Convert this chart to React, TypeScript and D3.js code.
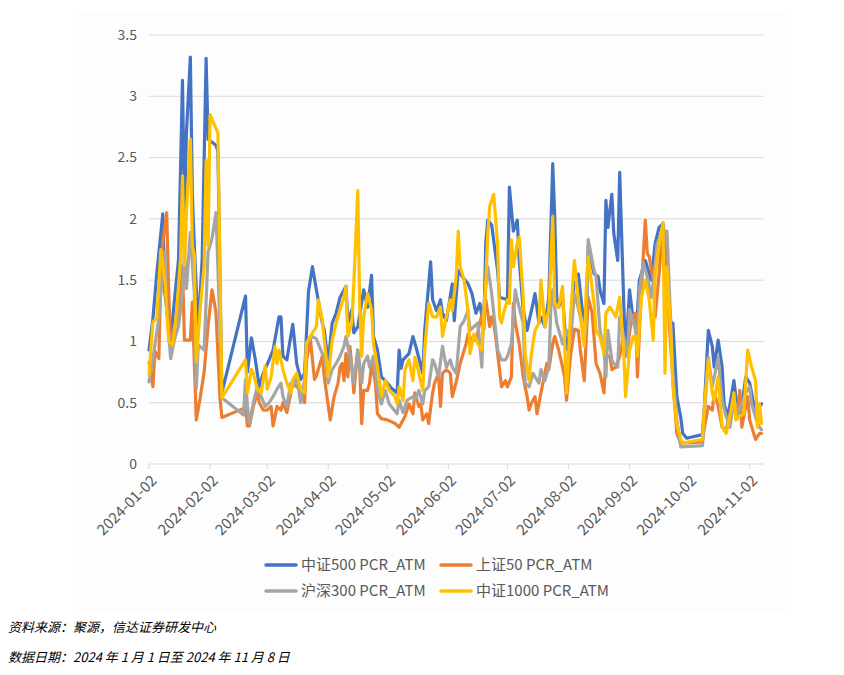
import React from "react";
import * as d3 from "d3";

const YEAR = 2024;
const tickDates = ["01-02","02-02","03-02","04-02","05-02","06-02","07-02","08-02","09-02","10-02","11-02"];
const yTicks = [0, 0.5, 1, 1.5, 2, 2.5, 3, 3.5];
const seriesNames = ["中证500 PCR_ATM", "上证50 PCR_ATM", "沪深300 PCR_ATM", "中证1000 PCR_ATM"];
const seriesColors = ["#4472C4", "#ED7D31", "#A5A5A5", "#FFC000"];
const sourceNote = "资料来源：聚源，信达证券研发中心";
const dateNote = "数据日期：2024 年 1 月 1 日至 2024 年 11 月 8 日";

const zz500: [string, number][] = [["01-02",0.93],["01-04",1.19],["01-06",1.56],["01-09",2.04],["01-10",1.4],["01-13",1.0],["01-15",1.35],["01-17",1.67],["01-19",3.13],["01-20",2.05],["01-21",2.7],["01-23",3.32],["01-24",2.2],["01-25",1.78],["01-27",1.1],["01-29",1.67],["01-31",3.31],["02-01",2.65],["02-05",2.6],["02-06",2.55],["02-08",0.58],["02-20",1.37],["02-21",0.75],["02-23",1.03],["02-25",0.85],["02-27",0.63],["02-29",0.74],["03-03",0.85],["03-05",0.93],["03-08",1.2],["03-09",1.2],["03-10",0.88],["03-12",0.85],["03-15",1.14],["03-17",0.82],["03-19",0.69],["03-21",0.74],["03-23",1.41],["03-25",1.61],["03-27",1.42],["03-30",1.15],["03-31",1.09],["04-02",0.82],["04-04",1.15],["04-06",1.23],["04-08",1.36],["04-10",1.42],["04-11",1.45],["04-12",1.15],["04-14",1.26],["04-15",1.07],["04-17",1.12],["04-20",1.42],["04-22",1.28],["04-24",1.54],["04-25",1.04],["04-27",0.93],["04-29",0.71],["05-01",0.68],["05-04",0.62],["05-07",0.58],["05-08",0.93],["05-09",0.78],["05-10",0.85],["05-13",0.9],["05-15",1.04],["05-17",0.93],["05-20",0.74],["05-21",1.09],["05-24",1.65],["05-25",1.34],["05-27",1.25],["05-29",1.34],["05-30",1.23],["06-01",1.17],["06-04",1.47],["06-05",1.17],["06-07",1.58],["06-09",1.53],["06-12",1.47],["06-14",1.39],["06-16",1.23],["06-18",1.31],["06-20",1.1],["06-21",1.8],["06-22",1.99],["06-24",1.95],["06-27",1.58],["06-28",1.36],["06-30",1.35],["07-02",1.34],["07-03",2.26],["07-05",1.9],["07-07",1.99],["07-08",1.66],["07-10",1.26],["07-12",1.09],["07-13",1.17],["07-15",1.31],["07-16",1.39],["07-18",1.15],["07-19",1.2],["07-21",1.12],["07-23",1.36],["07-25",2.45],["07-26",2.02],["07-27",1.36],["07-28",1.28],["07-30",1.36],["08-01",0.93],["08-03",1.1],["08-05",1.5],["08-07",1.55],["08-09",1.26],["08-11",1.12],["08-12",1.77],["08-15",1.55],["08-17",1.53],["08-18",1.42],["08-20",1.31],["08-21",2.15],["08-22",1.93],["08-24",2.2],["08-25",1.88],["08-27",1.66],["08-28",2.38],["08-30",1.34],["08-31",0.88],["09-02",1.42],["09-04",1.15],["09-06",1.23],["09-07",1.5],["09-10",1.66],["09-13",1.5],["09-15",1.8],["09-17",1.93],["09-19",1.96],["09-21",1.47],["09-23",1.15],["09-24",1.15],["09-26",0.55],["09-28",0.38],["09-29",0.25],["10-01",0.21],["10-09",0.24],["10-10",0.47],["10-12",1.09],["10-14",0.96],["10-15",0.79],["10-17",1.01],["10-19",0.79],["10-20",0.49],["10-22",0.39],["10-25",0.68],["10-27",0.41],["10-29",0.47],["10-31",0.71],["11-02",0.66],["11-05",0.41],["11-07",0.47],["11-08",0.49]];

const sz50: [string, number][] = [["01-02",0.83],["01-04",0.63],["01-05",0.92],["01-07",0.86],["01-08",1.51],["01-09",1.81],["01-11",2.05],["01-12",1.4],["01-13",0.97],["01-15",1.13],["01-17",1.21],["01-19",1.62],["01-20",1.01],["01-23",1.01],["01-24",1.32],["01-26",0.36],["01-28",0.54],["01-30",0.75],["02-01",1.13],["02-03",1.42],["02-05",1.24],["02-07",0.55],["02-08",0.38],["02-20",0.46],["02-21",0.31],["02-22",0.31],["02-24",0.47],["02-26",0.58],["02-27",0.5],["02-29",0.44],["03-02",0.44],["03-04",0.47],["03-05",0.31],["03-07",0.47],["03-09",0.44],["03-10",0.5],["03-12",0.42],["03-14",0.58],["03-15",0.66],["03-17",0.63],["03-19",0.61],["03-21",0.5],["03-22",0.85],["03-24",1.01],["03-26",0.69],["03-27",0.72],["03-30",0.88],["03-31",0.71],["04-03",0.36],["04-05",0.55],["04-07",0.66],["04-08",0.79],["04-09",0.82],["04-10",0.68],["04-11",0.9],["04-12",0.71],["04-13",0.96],["04-14",0.79],["04-15",0.58],["04-17",0.93],["04-18",0.79],["04-19",0.33],["04-20",0.6],["04-22",0.6],["04-23",0.66],["04-24",0.82],["04-26",0.66],["04-27",0.41],["04-29",0.37],["05-02",0.36],["05-06",0.33],["05-08",0.3],["05-11",0.39],["05-13",0.49],["05-15",0.41],["05-16",0.58],["05-18",0.47],["05-19",0.49],["05-20",0.36],["05-22",0.41],["05-23",0.33],["05-25",0.58],["05-26",0.66],["05-28",0.74],["05-29",0.47],["05-30",0.74],["06-01",0.77],["06-03",0.74],["06-04",0.55],["06-06",0.67],["06-08",0.82],["06-11",0.98],["06-12",1.06],["06-14",1.01],["06-16",1.01],["06-18",1.15],["06-21",1.34],["06-23",1.12],["06-24",1.2],["06-25",1.15],["06-26",1.04],["06-27",0.9],["06-29",0.63],["07-01",0.68],["07-02",0.63],["07-04",0.71],["07-05",1.31],["07-06",1.15],["07-08",0.98],["07-10",0.71],["07-12",0.55],["07-13",0.44],["07-14",0.49],["07-16",0.55],["07-17",0.41],["07-19",0.58],["07-20",0.66],["07-22",0.82],["07-23",0.77],["07-25",0.98],["07-26",1.04],["07-28",0.93],["07-30",0.79],["07-31",0.71],["08-01",0.52],["08-03",0.88],["08-05",1.1],["08-07",1.09],["08-08",0.93],["08-10",0.68],["08-12",1.36],["08-14",1.23],["08-16",0.82],["08-18",0.74],["08-20",0.58],["08-21",0.88],["08-23",0.88],["08-24",0.77],["08-26",0.79],["08-28",0.88],["08-30",1.04],["09-01",0.93],["09-03",1.2],["09-05",1.23],["09-06",0.71],["09-08",1.42],["09-10",1.99],["09-11",1.72],["09-12",1.69],["09-14",1.5],["09-15",1.2],["09-17",1.55],["09-18",1.77],["09-20",1.88],["09-21",1.47],["09-23",0.93],["09-25",0.47],["09-26",0.25],["09-28",0.17],["10-09",0.18],["10-10",0.3],["10-12",0.47],["10-14",0.44],["10-15",0.58],["10-17",0.47],["10-19",0.3],["10-21",0.28],["10-23",0.41],["10-25",0.52],["10-27",0.41],["10-28",0.6],["10-29",0.3],["10-31",0.47],["11-01",0.55],["11-02",0.36],["11-04",0.25],["11-05",0.2],["11-07",0.25],["11-08",0.25]];

const hs300: [string, number][] = [["01-02",0.67],["01-04",0.86],["01-07",1.19],["01-08",1.4],["01-10",1.73],["01-11",1.27],["01-13",0.86],["01-15",1.02],["01-17",1.13],["01-19",1.4],["01-20",1.73],["01-21",1.43],["01-23",1.89],["01-25",1.4],["01-26",0.62],["01-27",0.97],["01-30",0.93],["02-01",1.73],["02-03",1.84],["02-05",2.05],["02-07",1.13],["02-08",0.54],["02-19",0.4],["02-20",0.69],["02-21",0.47],["02-22",0.33],["02-24",0.5],["02-26",0.63],["02-28",0.55],["03-01",0.47],["03-03",0.5],["03-05",0.55],["03-07",0.61],["03-09",0.66],["03-10",0.55],["03-12",0.47],["03-14",0.66],["03-15",0.63],["03-17",0.71],["03-19",0.5],["03-21",0.69],["03-22",0.99],["03-25",1.04],["03-27",1.02],["03-30",0.9],["03-31",0.88],["04-02",0.66],["04-04",0.77],["04-06",0.82],["04-08",0.88],["04-10",0.96],["04-11",1.04],["04-12",0.96],["04-14",0.79],["04-15",0.66],["04-17",0.93],["04-19",0.66],["04-20",0.82],["04-22",0.88],["04-23",0.79],["04-25",0.88],["04-27",0.6],["04-29",0.49],["05-01",0.6],["05-03",0.49],["05-07",0.41],["05-08",0.52],["05-10",0.42],["05-12",0.52],["05-15",0.55],["05-16",0.52],["05-18",0.6],["05-20",0.49],["05-21",0.6],["05-23",0.63],["05-25",0.85],["05-26",0.82],["05-28",0.71],["05-30",0.96],["06-01",0.79],["06-03",0.85],["06-04",0.79],["06-06",0.74],["06-08",1.12],["06-10",1.17],["06-12",1.25],["06-13",1.09],["06-15",1.12],["06-17",1.15],["06-19",0.79],["06-20",1.28],["06-22",1.61],["06-24",1.39],["06-26",1.09],["06-27",0.93],["06-29",0.85],["07-01",0.85],["07-02",0.88],["07-04",0.98],["07-06",1.42],["07-07",1.34],["07-10",1.15],["07-11",0.66],["07-13",0.63],["07-15",0.74],["07-16",0.71],["07-18",0.66],["07-19",0.77],["07-21",0.68],["07-23",0.79],["07-24",1.26],["07-25",1.42],["07-27",1.15],["07-29",1.04],["07-30",0.98],["08-01",1.09],["08-03",1.0],["08-05",1.39],["08-06",1.34],["08-08",1.2],["08-10",1.04],["08-11",1.15],["08-12",1.83],["08-15",1.58],["08-16",1.53],["08-18",1.09],["08-20",0.93],["08-21",0.71],["08-22",1.09],["08-24",0.85],["08-25",0.82],["08-27",0.79],["08-28",1.2],["08-30",1.04],["09-01",0.88],["09-02",1.26],["09-04",1.15],["09-06",1.04],["09-07",1.42],["09-09",1.64],["09-11",1.53],["09-13",1.36],["09-14",1.47],["09-16",1.8],["09-19",1.9],["09-21",1.9],["09-23",1.12],["09-24",0.74],["09-26",0.36],["09-28",0.14],["10-09",0.15],["10-10",0.41],["10-12",0.87],["10-14",0.63],["10-15",0.71],["10-17",0.87],["10-19",0.52],["10-21",0.39],["10-23",0.3],["10-25",0.52],["10-27",0.41],["10-29",0.49],["10-31",0.58],["11-02",0.63],["11-03",0.49],["11-06",0.33],["11-07",0.3],["11-08",0.28]];

const zz1000: [string, number][] = [["01-02",0.73],["01-04",1.16],["01-06",1.19],["01-08",1.75],["01-10",1.51],["01-12",1.0],["01-14",0.97],["01-16",1.24],["01-18",1.67],["01-19",2.35],["01-20",1.62],["01-21",2.05],["01-23",2.65],["01-24",1.78],["01-25",1.7],["01-26",0.83],["01-28",1.27],["01-30",1.62],["01-31",2.48],["02-01",1.78],["02-02",2.85],["02-06",2.7],["02-08",0.54],["02-20",0.85],["02-21",0.58],["02-23",0.77],["02-24",0.74],["02-26",0.61],["02-28",0.58],["03-01",0.8],["03-02",0.61],["03-04",0.71],["03-06",0.96],["03-07",0.82],["03-08",0.93],["03-10",0.77],["03-12",0.66],["03-14",0.58],["03-15",0.69],["03-17",0.74],["03-19",0.61],["03-21",0.58],["03-22",0.99],["03-25",1.07],["03-27",1.12],["03-28",1.34],["03-30",1.17],["03-31",1.01],["04-02",0.71],["04-04",1.01],["04-06",1.15],["04-08",1.26],["04-10",1.36],["04-11",1.45],["04-12",1.04],["04-14",1.15],["04-15",1.47],["04-17",2.23],["04-18",1.28],["04-19",0.88],["04-20",1.2],["04-22",1.39],["04-24",1.26],["04-25",0.98],["04-27",0.79],["04-29",0.55],["05-01",0.68],["05-03",0.6],["05-06",0.55],["05-07",0.49],["05-08",0.63],["05-10",0.52],["05-11",0.77],["05-13",0.85],["05-15",0.68],["05-16",0.87],["05-17",0.82],["05-18",0.74],["05-20",0.6],["05-21",0.93],["05-23",1.31],["05-25",1.2],["05-27",1.2],["05-29",1.28],["05-30",1.04],["06-01",1.2],["06-03",1.34],["06-04",1.25],["06-06",1.53],["06-07",1.9],["06-08",1.61],["06-10",1.5],["06-12",1.25],["06-13",0.9],["06-15",1.06],["06-17",0.98],["06-19",0.93],["06-21",1.47],["06-22",1.88],["06-23",2.1],["06-25",2.2],["06-27",1.8],["06-28",1.2],["06-29",1.15],["06-30",1.23],["07-02",1.34],["07-03",1.31],["07-04",1.83],["07-05",1.61],["07-07",1.8],["07-08",1.85],["07-10",1.36],["07-11",0.9],["07-13",0.68],["07-14",0.88],["07-16",1.09],["07-18",1.15],["07-19",1.5],["07-21",1.12],["07-23",1.26],["07-25",2.02],["07-26",1.31],["07-28",1.28],["07-30",1.45],["08-01",0.58],["08-03",1.2],["08-05",1.66],["08-07",1.34],["08-10",0.96],["08-11",1.42],["08-12",1.69],["08-15",1.31],["08-16",1.09],["08-18",1.04],["08-20",0.9],["08-21",1.23],["08-23",1.28],["08-25",1.23],["08-26",1.2],["08-28",1.36],["08-30",0.93],["08-31",0.55],["09-02",0.93],["09-04",1.04],["09-05",1.04],["09-06",0.88],["09-08",1.36],["09-10",1.5],["09-12",1.34],["09-14",1.01],["09-15",1.55],["09-17",1.8],["09-19",1.97],["09-20",0.74],["09-21",1.61],["09-23",1.06],["09-24",0.63],["09-26",0.33],["09-28",0.2],["09-29",0.17],["10-09",0.2],["10-10",0.47],["10-12",0.85],["10-14",0.58],["10-15",0.52],["10-17",0.71],["10-19",0.3],["10-21",0.25],["10-23",0.39],["10-25",0.58],["10-26",0.36],["10-28",0.39],["10-30",0.41],["11-01",0.93],["11-03",0.79],["11-05",0.68],["11-06",0.3],["11-07",0.49],["11-08",0.33]];

const allSeries = [zz500, sz50, hs300, zz1000];

const W = 844;
const H = 675;
const LEFT = 149;
const RIGHT_DATA = 761.5;
const GRID_RIGHT = 764;
const TOP = 35;
const BOTTOM = 464;
const FONT = "'Noto Sans CJK SC', 'Noto Sans', sans-serif";
const LABEL_COLOR = "#595959";
const GRID_COLOR = "#d9d9d9";

const parse = d3.timeParse("%Y-%m-%d");
const toDate = (md: string) => parse(`${YEAR}-${md}`) as Date;

export default function App() {
  const x = d3.scaleTime().domain([toDate("01-02"), toDate("11-08")]).range([LEFT, RIGHT_DATA]);
  const y = d3.scaleLinear().domain([0, 3.5]).range([BOTTOM, TOP]);
  const line = d3
    .line<[string, number]>()
    .x((d) => x(toDate(d[0])))
    .y((d) => y(d[1]));

  const legendItems = seriesNames.map((name, i) => ({
    name,
    color: seriesColors[i],
    lx: i % 2 === 0 ? 266 : 441,
    ly: i < 2 ? 565 : 591,
  }));

  return (
    <svg
      width={W}
      height={H}
      style={{ position: "absolute", left: 0, top: 0, background: "#ffffff" }}
    >
      <rect x={73} y={12} width={717} height={600} fill="#fdfdfd" />
      {yTicks.map((t) => (
        <g key={t}>
          <line x1={LEFT} x2={GRID_RIGHT} y1={y(t)} y2={y(t)} stroke={GRID_COLOR} strokeWidth={1} />
          <text
            x={137}
            y={y(t)}
            dy="0.35em"
            textAnchor="end"
            fontFamily={FONT}
            fontSize={14}
            fill={LABEL_COLOR}
          >
            {String(t)}
          </text>
        </g>
      ))}
      {tickDates.map((md) => {
        const tx = x(toDate(md));
        return (
          <g key={md}>
            <line x1={tx} x2={tx} y1={BOTTOM} y2={BOTTOM + 5} stroke={GRID_COLOR} strokeWidth={1} />
            <text
              transform={`translate(${tx + 5},${BOTTOM + 14}) rotate(-45)`}
              textAnchor="end"
              dy="0.35em"
              fontFamily={FONT}
              fontSize={15}
              fill={LABEL_COLOR}
            >
              {`${YEAR}-${md}`}
            </text>
          </g>
        );
      })}
      {allSeries.map((s, i) => (
        <path
          key={i}
          d={line(s) || ""}
          fill="none"
          stroke={seriesColors[i]}
          strokeWidth={3.2}
          strokeLinejoin="round"
          strokeLinecap="round"
        />
      ))}
      {legendItems.map((it) => (
        <g key={it.name}>
          <line
            x1={it.lx}
            x2={it.lx + 30}
            y1={it.ly}
            y2={it.ly}
            stroke={it.color}
            strokeWidth={3.5}
            strokeLinecap="round"
          />
          <text
            x={it.lx + 35}
            y={it.ly}
            dy="0.35em"
            fontFamily={FONT}
            fontSize={15}
            fill={LABEL_COLOR}
          >
            {it.name}
          </text>
        </g>
      ))}
      <text x={8} y={632} fontFamily={FONT} fontStyle="italic" fontSize={13} fill="#000">
        {sourceNote}
      </text>
      <text x={8} y={662} fontFamily={FONT} fontStyle="italic" fontSize={13} fill="#000">
        {dateNote}
      </text>
    </svg>
  );
}
